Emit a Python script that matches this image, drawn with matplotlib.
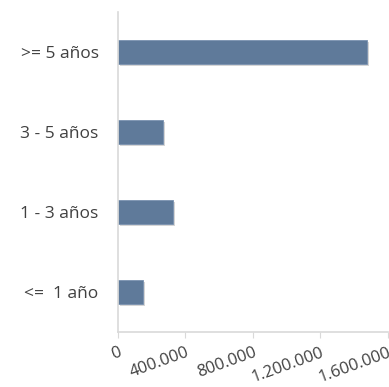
import matplotlib
matplotlib.use('Agg')
import matplotlib.pyplot as plt
import matplotlib.patheffects as pe
from matplotlib.ticker import FuncFormatter

categories = ['<=  1 año', '1 - 3 años', '3 - 5 años', '>= 5 años']
values = [148000, 326000, 267000, 1475000]
xticks = [0, 400000, 800000, 1200000, 1600000]

plt.rcParams['font.family'] = ['Open Sans', 'DejaVu Sans']

fig = plt.figure(figsize=(3.89, 3.87), dpi=100)
ax = fig.add_axes([0.3033, 0.142, 0.694, 0.827])

bars = ax.barh(range(len(categories)), values, height=0.3, color='#5f7a9a',
               edgecolor='#7a92b0', linewidth=0.6)
for b in bars:
    b.set_path_effects([pe.SimplePatchShadow(offset=(1.5, -1.5), shadow_rgbFace='#888888', alpha=0.35),
                        pe.Normal()])

ax.set_ylim(-0.5, 3.5)
ax.set_xlim(0, 1600000)
ax.set_yticks(range(len(categories)))
ax.set_yticklabels(categories, fontsize=12.5, color='#404040')
ax.set_xticks(xticks)
ax.xaxis.set_major_formatter(FuncFormatter(lambda v, p: f'{int(v):,}'.replace(',', '.')))
for lab in ax.get_xticklabels():
    lab.set_rotation(20)
    lab.set_ha('right')
    lab.set_rotation_mode('anchor')
    lab.set_fontsize(12)
    lab.set_color('#404040')

ax.tick_params(axis='y', length=0, pad=14)
ax.tick_params(axis='x', length=4, color='#d9d9d9', pad=5)
for s in ['top', 'right']:
    ax.spines[s].set_visible(False)
for s in ['left', 'bottom']:
    ax.spines[s].set_color('#d9d9d9')
    ax.spines[s].set_linewidth(1.2)

fig.savefig('out.png', dpi=100)
